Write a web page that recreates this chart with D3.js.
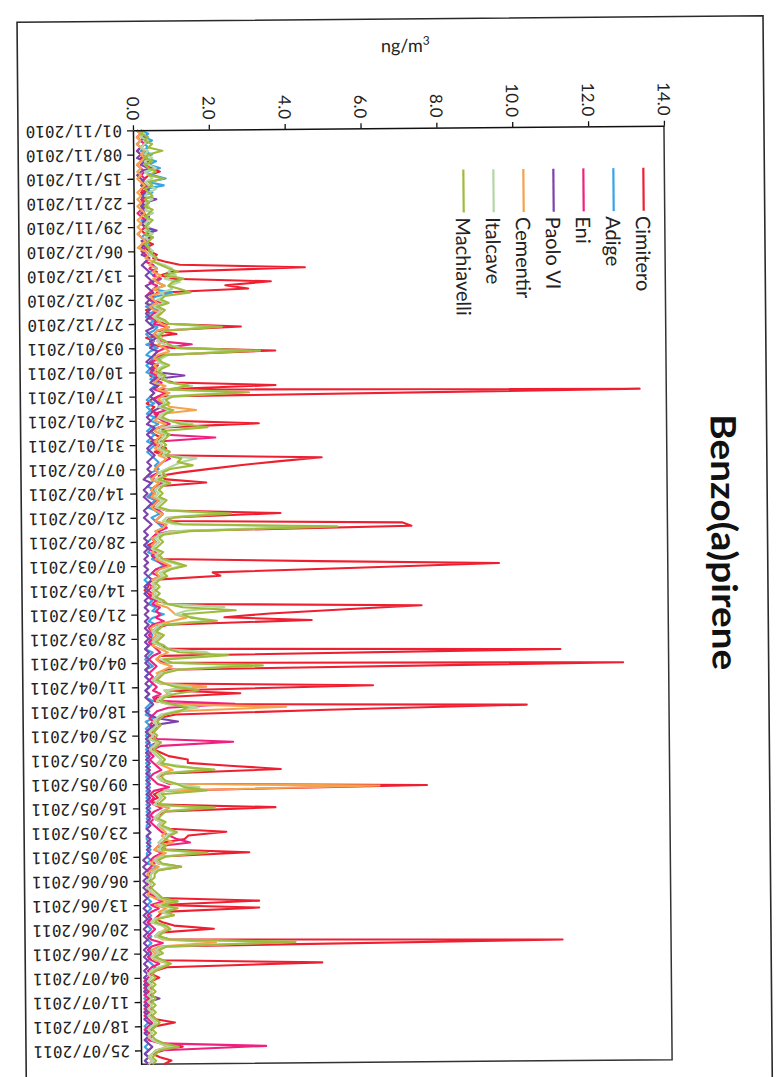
<!DOCTYPE html>
<html><head><meta charset="utf-8">
<script src="https://cdn.jsdelivr.net/npm/d3@7"></script>
<style>
body{margin:0;background:#fff;}
svg{display:block;}
</style></head>
<body>
<svg id="chart" width="781" height="1077"></svg>
<script>
// ---------------- DATA ----------------
const title = "Benzo(a)pirene";
const unitLabel = "ng/m";
const seriesNames = ["Cimitero","Adige","Eni","Paolo VI","Cementir","Italcave","Machiavelli"];
const seriesColors = ["#ee1f30","#36a4e6","#f0207f","#7e42aa","#f5a24c","#b3d7a3","#9fbb3c"];
const firstDate = "01/11/2010";   // daily values start here
const valueTicks = [0,2,4,6,8,10,12,14];
const tickLabels = ["01/11/2010","08/11/2010","15/11/2010","22/11/2010","29/11/2010","06/12/2010","13/12/2010",
 "20/12/2010","27/12/2010","03/01/2011","10/01/2011","17/01/2011","24/01/2011","31/01/2011","07/02/2011",
 "14/02/2011","21/02/2011","28/02/2011","07/03/2011","14/03/2011","21/03/2011","28/03/2011","04/04/2011",
 "11/04/2011","18/04/2011","25/04/2011","02/05/2011","09/05/2011","16/05/2011","23/05/2011","30/05/2011",
 "06/06/2011","13/06/2011","20/06/2011","27/06/2011","04/07/2011","11/07/2011","18/07/2011","25/07/2011"];

// daily values (ng/m3), one row per week
const cimitero = [
0.2,0.3,0.2,0.4,0.3,0.2,0.3,
0.3,0.2,0.4,0.3,0.5,0.7,0.4,
0.3,0.2,0.3,0.4,0.2,0.3,0.2,
0.3,0.2,0.3,0.2,0.4,0.3,0.2,
0.3,0.2,0.3,0.4,0.3,0.5,0.3,
0.4,0.6,0.5,0.8,1.2,4.5,1.0,
0.7,1.0,3.6,2.4,3.0,0.6,0.5,
0.4,0.8,0.5,0.3,0.4,0.3,0.5,
0.8,2.8,0.6,1.1,0.3,0.5,0.4,
1.0,3.7,0.7,0.5,0.4,0.6,0.4,
0.5,0.4,0.7,1.0,3.7,0.6,13.3,
0.6,0.4,0.3,0.5,0.4,0.6,0.5,
0.8,3.25,0.6,0.4,0.5,0.7,0.4,
0.6,0.8,0.5,0.7,4.9,3.8,2.8,
2.0,1.2,0.6,0.8,1.85,0.5,0.4,
0.5,0.3,0.6,0.4,0.5,0.8,3.8,
0.9,0.8,7.0,7.25,0.9,0.5,0.4,
0.5,0.3,0.4,0.5,0.4,0.6,4.8,
9.55,5.8,2.0,2.2,0.4,0.3,0.3,
0.2,0.3,0.4,0.5,0.8,7.5,5.5,
3.5,2.3,4.6,0.8,0.5,0.4,0.6,
0.5,0.4,0.6,0.8,11.15,0.6,0.5,
0.7,12.8,0.8,0.6,0.5,0.4,0.6,
6.2,0.8,2.7,0.5,0.4,1.0,10.25,
5.0,1.0,0.5,0.4,0.3,0.5,0.4,
0.3,0.4,0.5,0.3,0.4,0.6,0.8,
1.3,1.3,2.5,3.75,0.7,0.5,0.6,
0.8,7.6,0.6,0.4,0.5,0.3,0.6,
3.6,0.7,0.5,0.4,0.6,0.5,0.8,
2.3,1.3,1.2,0.6,0.5,0.7,2.9,
0.6,0.4,0.5,1.1,0.4,0.3,0.2,
0.3,0.2,0.3,0.2,0.3,0.5,3.15,
0.5,3.15,0.6,0.5,0.4,0.6,0.9,
1.95,0.5,0.4,0.8,11.14,0.6,0.4,
0.5,0.3,0.6,4.8,0.7,0.4,0.3,
0.5,0.3,0.2,0.3,0.2,0.3,0.2,
0.3,0.2,0.3,0.2,0.3,0.4,0.9,
0.4,0.3,0.2,0.3,0.2,0.6,1.1,
0.4,0.3,0.5,0.8,0.6];

const adige = [
0.2,0.4,0.3,0.5,0.3,0.4,0.2,
0.5,0.3,0.6,0.4,0.7,0.3,0.5,
0.85,0.4,0.8,0.3,0.5,0.2,0.3,
0.4,0.2,0.3,0.5,0.3,0.2,0.4,
0.3,0.5,0.3,0.2,0.3,0.4,0.3,
0.2,0.3,0.4,0.3,0.5,0.6,0.4,
0.5,0.7,0.6,0.8,0.5,1.0,0.6,
0.4,0.5,0.3,0.6,0.4,0.3,0.5,
0.4,0.6,0.5,0.3,0.4,0.5,0.3,
0.6,0.4,0.3,0.5,0.4,0.3,0.4,
0.3,0.5,0.4,0.6,0.5,0.4,0.5,
0.4,0.3,0.5,0.3,0.4,0.3,0.5,
0.4,0.6,0.4,0.3,0.5,0.4,0.3,
0.5,0.4,0.3,0.4,0.5,0.6,0.5,
0.6,0.4,0.3,0.5,0.4,0.3,0.5,
0.4,0.3,0.5,0.4,0.3,0.5,0.6,
0.4,0.5,0.6,0.7,0.5,0.7,0.4,
0.3,0.2,0.4,0.3,0.5,0.4,0.6,
0.7,0.5,0.4,0.3,0.2,0.3,0.2,
0.3,0.2,0.3,0.4,0.3,0.5,0.4,
0.7,0.4,0.3,0.5,0.6,0.3,0.4,
0.3,0.4,0.3,0.2,0.4,0.3,0.2,
0.3,0.4,0.2,0.3,0.2,0.3,0.4,
0.3,0.2,0.3,0.2,0.4,0.3,0.2,
0.3,0.2,0.4,0.2,0.3,0.2,0.3,
0.2,0.3,0.2,0.4,0.2,0.3,0.2,
0.3,0.2,0.3,0.2,0.3,0.2,0.3,
0.2,0.3,0.2,0.3,0.2,0.3,0.2,
0.3,0.2,0.3,0.2,0.3,0.2,0.2,
0.3,0.2,0.2,0.3,0.2,0.3,0.2,
0.2,0.3,0.2,0.5,0.2,0.3,0.2,
0.3,0.2,0.3,0.2,0.3,0.2,0.3,
0.2,0.3,0.2,0.3,0.2,0.3,0.2,
0.3,0.2,0.3,0.2,0.3,0.2,0.3,
0.2,0.3,0.2,0.3,0.4,0.3,0.2,
0.1,0.2,0.1,0.2,0.1,0.2,0.1,
0.2,0.1,0.2,0.1,0.2,0.1,0.2,
0.1,0.2,0.1,0.2,0.1,0.2,0.1,
0.2,0.1,0.2,0.1,0.2];

const eni = [
0.1,0.2,0.1,0.2,0.3,0.2,0.1,
0.2,0.3,0.2,0.1,0.2,0.3,0.2,
0.3,0.2,0.4,0.2,0.3,0.2,0.3,
0.2,0.3,0.2,0.1,0.2,0.3,0.2,
0.3,0.2,0.1,0.2,0.3,0.2,0.3,
0.2,0.3,0.4,0.3,0.5,0.4,0.6,
0.5,0.7,0.4,0.6,0.5,0.4,0.3,
0.4,0.6,0.5,0.7,0.5,0.4,0.6,
0.5,0.9,0.6,0.5,0.7,0.6,1.5,
0.8,0.6,0.5,0.7,0.4,0.6,0.5,
0.4,0.6,0.5,0.7,0.6,0.5,0.8,
0.6,0.5,0.7,0.6,0.8,0.5,0.6,
0.7,0.9,0.6,0.8,0.7,2.1,0.6,
0.5,0.7,0.6,0.8,0.9,0.7,0.6,
0.5,0.6,0.4,0.5,0.7,0.5,0.4,
0.5,0.4,0.6,0.5,0.4,0.6,0.7,
0.6,0.5,0.7,0.8,0.6,0.5,0.4,
0.5,0.4,0.3,0.5,0.4,0.5,0.6,
0.8,0.5,0.4,0.6,0.4,0.3,0.4,
0.3,0.4,0.3,0.5,0.4,0.6,0.5,
0.6,0.5,0.7,0.4,0.3,0.4,0.3,
0.4,0.3,0.4,0.5,0.6,0.4,0.3,
0.4,0.5,0.4,0.3,0.4,0.3,0.4,
0.5,0.4,0.6,0.4,0.5,2.55,0.8,
0.5,0.4,0.3,0.4,0.3,0.4,0.3,
0.4,0.5,2.5,0.6,0.4,0.3,0.4,
0.3,0.4,0.5,0.6,0.4,0.3,0.4,
0.5,0.8,0.4,0.3,0.4,0.3,0.4,
0.6,0.4,0.3,0.4,0.3,0.4,0.5,
0.6,0.8,1.0,1.34,0.5,0.4,0.6,
0.4,0.3,0.4,0.3,0.2,0.3,0.2,
0.3,0.2,0.3,0.2,0.3,0.4,0.6,
0.3,0.5,0.3,0.2,0.3,0.2,0.3,
0.4,0.3,0.2,0.3,0.6,0.3,0.2,
0.3,0.2,0.3,0.5,0.3,0.2,0.3,
0.2,0.1,0.2,0.1,0.2,0.1,0.2,
0.1,0.2,0.1,0.2,0.1,0.2,0.3,
0.2,0.1,0.2,0.3,0.2,0.5,3.3,
0.6,0.3,0.2,0.3,0.2];

const paoloVI = [
0.1,0.2,0.3,0.2,0.1,0.2,0.1,
0.2,0.1,0.3,0.2,0.4,0.2,0.1,
0.2,0.3,0.2,0.4,0.3,0.2,0.6,
0.3,0.2,0.3,0.2,0.4,0.3,0.2,
0.3,0.6,0.3,0.5,0.2,0.3,0.2,
0.3,0.2,0.4,0.3,0.2,0.3,0.4,
0.3,0.4,0.5,0.3,0.4,0.5,0.3,
0.4,0.3,0.5,0.4,0.3,0.4,0.3,
0.4,0.5,0.3,0.4,0.6,0.4,0.5,
0.4,0.6,0.5,0.4,0.3,0.5,0.4,
0.6,1.3,0.5,0.4,0.6,0.4,0.5,
0.4,0.5,0.6,0.7,0.5,0.4,0.3,
0.4,0.3,0.5,0.4,0.3,0.4,0.5,
0.4,0.3,0.4,0.5,0.4,0.3,0.4,
0.3,0.4,0.3,0.2,0.4,0.3,0.2,
0.3,0.2,0.3,0.4,0.3,0.2,0.3,
0.2,0.3,0.4,0.3,0.2,0.3,0.2,
0.3,0.2,0.3,0.2,0.3,0.2,0.3,
0.2,0.3,0.2,0.3,0.4,0.3,0.2,
0.3,0.2,0.3,0.2,0.3,0.2,0.3,
0.2,0.3,0.2,0.3,0.2,0.3,0.2,
0.3,0.2,0.3,0.2,0.3,0.2,0.3,
0.2,0.3,0.2,0.3,0.2,0.3,0.2,
0.3,0.2,0.3,0.2,0.3,0.4,0.3,
0.2,0.3,0.5,1.05,0.4,0.3,0.2,
0.3,0.2,0.3,0.2,0.3,0.2,0.3,
0.2,0.3,0.2,0.3,0.2,0.3,0.2,
0.3,0.2,0.3,0.2,0.3,0.2,0.3,
0.2,0.3,0.2,0.3,0.2,0.3,0.2,
0.3,0.2,0.3,0.2,0.3,0.2,0.3,
0.2,0.1,0.2,0.1,0.2,0.1,0.2,
0.1,0.2,0.1,0.2,0.1,0.2,0.1,
0.2,0.1,0.2,0.1,0.2,0.1,0.2,
0.1,0.2,0.1,0.2,0.1,0.2,0.1,
0.2,0.1,0.2,0.1,0.2,0.1,0.2,
0.1,0.2,0.1,0.2,0.1,0.2,0.5,
0.2,0.1,0.2,0.1,0.2,0.1,0.2,
0.4,0.2,0.1,0.2,0.1,0.2,0.3,
0.2,0.1,0.2,0.1,0.2];

const cementir = [
0.1,0.2,0.1,0.2,0.1,0.2,0.3,
0.2,0.3,0.2,0.1,0.2,0.1,0.2,
0.1,0.2,0.3,0.2,0.1,0.2,0.1,
0.2,0.1,0.2,0.3,0.2,0.1,0.2,
0.1,0.2,0.1,0.2,0.3,0.2,0.1,
0.3,0.4,0.3,0.5,0.4,0.6,0.5,
0.7,0.5,0.6,0.8,0.5,0.7,0.4,
0.5,0.6,0.4,0.5,0.7,0.5,0.6,
0.7,0.9,0.6,0.5,0.6,0.8,0.6,
0.8,0.9,0.6,0.5,0.7,0.5,0.6,
0.5,0.7,0.6,0.5,0.8,0.6,0.9,
0.7,0.6,0.8,0.9,1.6,0.7,0.6,
0.5,0.8,0.6,0.5,0.7,0.6,0.5,
0.6,0.5,0.7,0.6,0.8,0.7,0.6,
0.5,0.6,0.5,0.4,0.6,0.5,0.4,
0.5,0.4,0.6,0.5,0.4,0.5,0.7,
0.6,0.5,0.8,0.7,0.5,0.6,0.4,
0.5,0.4,0.5,0.4,0.6,0.5,0.7,
0.9,0.6,0.5,0.6,0.4,0.5,0.4,
0.5,0.4,0.5,0.6,0.5,0.8,0.9,
1.0,1.3,0.9,0.5,0.35,0.4,0.5,
0.4,0.5,0.4,0.6,0.8,0.6,0.5,
0.6,0.9,0.7,0.5,0.6,0.5,0.7,
1.8,0.7,0.8,0.6,0.5,0.8,3.9,
1.2,0.6,0.5,0.4,0.5,0.4,0.3,
0.4,0.3,0.5,0.4,0.3,0.4,0.5,
0.6,0.5,0.7,0.9,0.6,0.5,0.6,
0.9,6.35,0.7,0.5,0.6,0.5,0.4,
0.8,0.6,0.5,0.4,0.6,0.5,0.6,
0.7,0.6,0.7,0.9,0.5,0.4,0.7,
0.5,0.4,0.3,0.5,0.3,0.2,0.3,
0.2,0.3,0.2,0.3,0.2,0.4,0.8,
0.4,0.7,0.5,0.9,0.4,0.3,0.6,
0.7,0.5,0.4,0.6,2.0,0.5,0.3,
0.4,0.3,0.4,0.8,0.5,0.3,0.2,
0.3,0.2,0.3,0.2,0.3,0.2,0.3,
0.2,0.3,0.2,0.3,0.2,0.3,0.4,
0.3,0.2,0.3,0.2,0.3,0.5,0.7,
0.4,0.3,0.2,0.3,0.2];

const italcave = [
0.2,0.3,0.2,0.4,0.3,0.2,0.4,
0.3,0.5,0.3,0.4,0.6,0.3,0.4,
0.5,0.3,0.4,0.6,0.4,0.3,0.5,
0.3,0.4,0.3,0.5,0.3,0.4,0.3,
0.4,0.3,0.5,0.3,0.4,0.3,0.4,
0.5,0.4,0.6,0.5,0.8,1.0,0.9,
1.1,0.8,1.2,0.9,1.0,0.7,0.8,
0.6,0.8,0.5,0.7,0.6,0.5,0.7,
0.9,2.0,0.8,0.6,0.7,0.6,0.8,
1.2,2.8,0.9,0.7,0.6,0.8,0.6,
0.7,0.6,0.8,0.9,1.5,0.8,2.6,
0.9,0.7,0.8,0.6,0.9,0.7,0.6,
0.8,1.5,0.7,0.6,0.8,0.7,0.6,
0.7,0.6,0.8,0.7,1.6,1.2,1.0,
0.8,0.6,0.7,0.5,0.8,0.6,0.5,
0.6,0.5,0.7,0.6,0.5,0.8,2.2,
0.8,0.7,1.0,4.6,0.9,0.6,0.5,
0.6,0.5,0.4,0.6,0.5,0.6,0.9,
1.2,0.8,0.6,0.7,0.5,0.4,0.5,
0.4,0.5,0.4,0.6,0.7,2.3,1.3,
1.0,1.5,1.8,0.6,0.5,0.4,0.6,
0.5,0.4,0.6,0.7,1.8,2.0,0.6,
0.8,2.9,1.0,0.6,0.5,0.4,0.6,
1.4,0.7,0.9,0.6,0.5,0.8,1.6,
1.0,0.6,0.5,0.4,0.5,0.4,0.3,
0.4,0.3,0.5,0.4,0.3,0.4,0.5,
0.6,0.5,1.2,1.7,0.6,0.5,0.6,
0.9,1.6,0.7,0.5,0.6,0.5,0.4,
1.7,0.6,0.5,0.4,0.6,0.5,0.7,
0.9,0.7,0.6,0.5,0.6,0.5,1.6,
0.6,0.4,0.5,0.9,0.4,0.3,0.3,
0.2,0.3,0.2,0.3,0.4,0.5,1.0,
0.5,0.9,0.6,0.8,0.4,0.3,0.6,
0.8,0.5,0.4,0.7,3.9,0.6,0.4,
0.5,0.3,0.5,0.8,0.5,0.3,0.2,
0.3,0.2,0.3,0.2,0.3,0.2,0.3,
0.2,0.3,0.2,0.3,0.2,0.3,0.4,
0.3,0.2,0.3,0.2,0.3,0.5,0.8,
0.4,0.3,0.2,0.3,0.2];

const machiavelli = [
0.3,0.2,0.4,0.3,0.5,0.4,0.77,
0.4,0.3,0.5,0.3,0.4,0.6,0.4,
0.8,0.4,0.5,0.3,0.4,0.5,0.3,
0.4,0.3,0.5,0.4,0.3,0.5,0.4,
0.3,0.4,0.3,0.5,0.4,0.3,0.4,
0.4,0.5,0.6,0.5,0.7,0.9,1.15,
0.8,1.3,1.0,0.9,1.2,1.48,0.8,
0.7,0.9,0.6,0.8,0.7,0.6,0.8,
0.9,2.3,0.8,0.7,0.6,0.8,0.9,
1.1,3.3,0.8,0.6,0.7,0.9,0.7,
0.6,0.8,0.7,0.9,1.4,0.9,3.0,
1.0,0.8,0.9,0.7,1.0,0.8,0.7,
0.9,1.2,1.9,0.7,0.9,0.8,0.7,
0.8,0.7,0.9,0.8,1.2,1.1,1.5,
0.9,0.7,0.8,0.6,0.9,0.7,0.6,
0.7,0.6,0.8,0.7,0.6,0.9,2.5,
1.0,0.8,1.2,5.3,1.4,0.7,0.6,
0.7,0.6,0.5,0.7,0.6,0.7,1.0,
1.3,0.9,0.7,0.8,0.6,0.5,0.6,
0.5,0.6,0.5,0.7,0.8,1.2,2.6,
1.2,1.4,2.1,0.7,0.6,0.5,0.7,
0.6,0.5,0.7,0.8,1.1,2.4,0.7,
0.9,3.3,1.1,0.7,0.6,0.5,0.7,
1.0,1.6,1.0,0.7,0.6,0.9,1.3,
1.1,0.7,0.6,0.5,0.6,0.5,0.4,
0.5,0.4,0.6,0.5,0.4,0.5,0.6,
0.7,0.6,1.0,2.0,0.7,0.6,0.7,
1.0,1.2,1.8,0.6,0.7,0.6,0.5,
2.0,0.7,0.6,0.5,0.7,0.6,0.8,
1.0,0.8,0.7,0.6,0.7,0.6,1.8,
0.7,0.5,0.6,1.1,0.5,0.4,0.4,
0.3,0.4,0.3,0.4,0.5,0.6,1.0,
0.6,1.0,0.7,0.9,0.5,0.4,0.7,
0.8,0.6,0.5,0.8,4.1,0.7,0.5,
0.6,0.4,0.6,0.8,0.6,0.4,0.3,
0.4,0.3,0.4,0.3,0.4,0.3,0.4,
0.3,0.4,0.3,0.4,0.3,0.4,0.5,
0.4,0.3,0.4,0.3,0.4,0.6,1.0,
0.5,0.4,0.3,0.4,0.3];

const seriesValues = [cimitero, adige, eni, paoloVI, cementir, italcave, machiavelli];

// ---------------- DRAW ----------------
const parse = d3.timeParse("%d/%m/%Y");
const fmt = d3.timeFormat("%d/%m/%Y");
const start = parse(firstDate);
const nDays = d3.max(seriesValues, s => s.length);
const dates = d3.range(nDays).map(i => d3.timeDay.offset(start, i));

const svg = d3.select("#chart");
svg.append("rect").attr("width",781).attr("height",1077).attr("fill","#fff");
const g = svg.append("g").attr("transform","rotate(-0.5,400,590)");

const X0 = 137, X1 = 668, Y0 = 128, Y1 = 1062;
const x = d3.scaleLinear().domain([valueTicks[0], valueTicks[valueTicks.length-1]]).range([X0, X1]);
const y = d3.scaleTime().domain([dates[0], dates[dates.length-1]]).range([Y0, Y1]);

// outer frame (page border of the chart object)
g.append("path")
 .attr("d","M22,1100 L22,19 L768,19 L768,1100")
 .attr("fill","none").attr("stroke","#2a2a2a").attr("stroke-width",1.6);

// plot area border (right & bottom)
g.append("path")
 .attr("d",`M${X0},${Y1} L${X1},${Y1} L${X1},${Y0}`)
 .attr("fill","none").attr("stroke","#333").attr("stroke-width",1.5);

// series lines
const line = d3.line().x(d => x(d.v)).y(d => y(d.d));
seriesValues.forEach((vals, si) => {
  const pts = vals.map((v,i) => ({d: dates[i], v: v}));
  g.append("path")
    .datum(pts)
    .attr("d", line)
    .attr("fill","none")
    .attr("stroke", seriesColors[si])
    .attr("stroke-width", 2.1)
    .attr("stroke-linejoin","round");
});

// value axis (top)
const xAxis = d3.axisTop(x).tickValues(valueTicks).tickFormat(d3.format(".1f")).tickSize(5).tickSizeOuter(0);
const gx = g.append("g").attr("transform",`translate(0,${Y0})`).call(xAxis);
gx.select(".domain").attr("stroke","#111").attr("stroke-width",1.5);
gx.selectAll(".tick line").attr("stroke","#111").attr("stroke-width",1.3);
gx.selectAll(".tick text")
  .attr("y",0).attr("dy",null)
  .attr("text-anchor","end")
  .attr("dominant-baseline","central")
  .attr("transform","translate(0,-10) rotate(90)")
  .attr("font-family","Lato, 'Open Sans', sans-serif")
  .attr("font-size",17).attr("fill","#222");

// date axis (left)
const tickDates = tickLabels.map(parse);
const yAxis = d3.axisLeft(y).tickValues(tickDates).tickFormat(fmt).tickSize(6).tickSizeOuter(0);
const gy = g.append("g").attr("transform",`translate(${X0},0)`).call(yAxis);
gy.select(".domain").attr("stroke","#111").attr("stroke-width",1.5);
gy.selectAll(".tick line").attr("stroke","#111").attr("stroke-width",1.3);
gy.selectAll(".tick text")
  .attr("x",0).attr("dy",null)
  .attr("text-anchor","start")
  .attr("dominant-baseline","central")
  .attr("transform","translate(-11,0) rotate(180)")
  .attr("font-family","'DejaVu Sans Mono', 'Liberation Mono', monospace")
  .attr("font-size",16).attr("fill","#222");

// unit label
const ut = g.append("text").attr("x",410).attr("y",52).attr("text-anchor","middle")
  .attr("font-family","Lato, sans-serif").attr("font-size",18).attr("fill","#222");
ut.append("tspan").text(unitLabel);
ut.append("tspan").attr("dy",-7).attr("font-size",12).text("3");

// title
g.append("text").attr("transform","translate(726,545) rotate(90)")
  .attr("text-anchor","middle").attr("dominant-baseline","central")
  .attr("font-family","Lato, sans-serif").attr("font-weight","bold").attr("font-size",35)
  .attr("textLength",256).attr("lengthAdjust","spacingAndGlyphs")
  .attr("fill","#111").text(title);

// legend
const leg = g.append("g");
seriesNames.forEach((name, i) => {
  const lx = 647 - i*30;
  leg.append("line").attr("x1",lx).attr("x2",lx).attr("y1",170).attr("y2",213)
    .attr("stroke",seriesColors[i]).attr("stroke-width",2.2);
  leg.append("text").attr("transform",`translate(${lx},218) rotate(90)`)
    .attr("text-anchor","start").attr("dominant-baseline","central")
    .attr("font-family","Lato, sans-serif").attr("font-size",20).attr("fill","#222")
    .text(name);
});
</script>
</body></html>
